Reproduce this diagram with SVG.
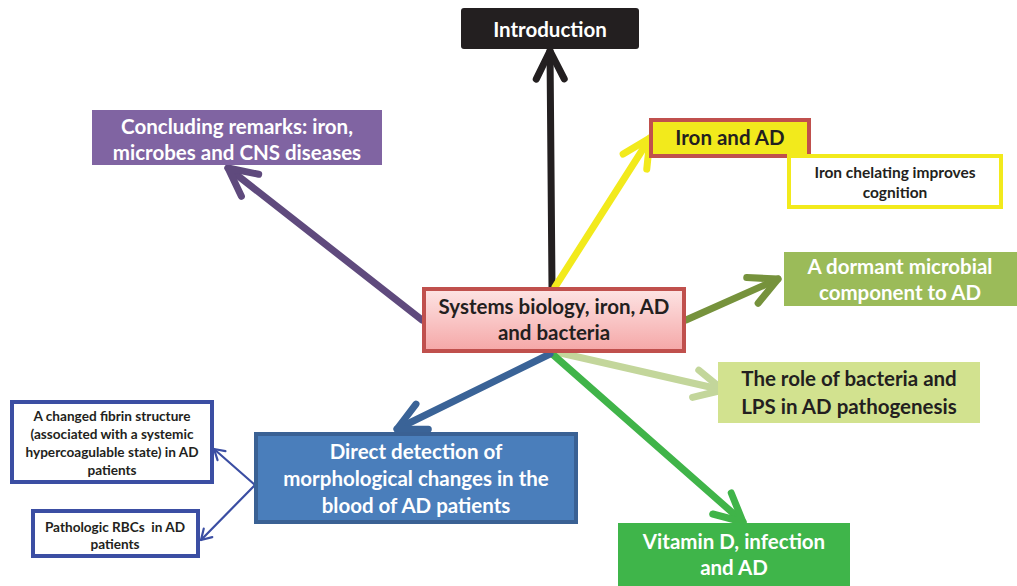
<svg xmlns="http://www.w3.org/2000/svg" width="1017" height="586" viewBox="0 0 1017 586">
<style>
text{font-family:"Lato","Open Sans","Liberation Sans",sans-serif;font-weight:bold;text-anchor:middle}
.big{font-size:20.5px}
.sm{font-size:15.5px}
.xs{font-size:13.6px}
.w{fill:#ffffff}
.d{fill:#231f20}
.conn{fill:none;stroke-linecap:round;stroke-linejoin:round}
.thick{stroke-width:7}
.thin{stroke-width:2.2}
</style>
<defs>
<linearGradient id="pink" x1="0" y1="0" x2="0" y2="1">
<stop offset="0" stop-color="#fde4e4"/>
<stop offset="1" stop-color="#f5a7a7"/>
</linearGradient>
<marker id="mk" markerUnits="userSpaceOnUse" markerWidth="80" markerHeight="80" viewBox="-40 -40 80 80" refX="0" refY="0" orient="auto" overflow="visible"><path d="M-28,-14 L0,0 L-28,14" fill="none" stroke="#231f20" stroke-width="7" stroke-linecap="round" stroke-linejoin="round"/></marker>
<marker id="my" markerUnits="userSpaceOnUse" markerWidth="80" markerHeight="80" viewBox="-40 -40 80 80" refX="0" refY="0" orient="auto" overflow="visible"><path d="M-28,-14 L0,0 L-28,14" fill="none" stroke="#f2ea1c" stroke-width="7" stroke-linecap="round" stroke-linejoin="round"/></marker>
<marker id="mp" markerUnits="userSpaceOnUse" markerWidth="80" markerHeight="80" viewBox="-40 -40 80 80" refX="0" refY="0" orient="auto" overflow="visible"><path d="M-28,-14 L0,0 L-28,14" fill="none" stroke="#5f4a7d" stroke-width="7" stroke-linecap="round" stroke-linejoin="round"/></marker>
<marker id="mo" markerUnits="userSpaceOnUse" markerWidth="80" markerHeight="80" viewBox="-40 -40 80 80" refX="0" refY="0" orient="auto" overflow="visible"><path d="M-28,-14 L0,0 L-28,14" fill="none" stroke="#76923c" stroke-width="7" stroke-linecap="round" stroke-linejoin="round"/></marker>
<marker id="ml" markerUnits="userSpaceOnUse" markerWidth="80" markerHeight="80" viewBox="-40 -40 80 80" refX="0" refY="0" orient="auto" overflow="visible"><path d="M-28,-14 L0,0 L-28,14" fill="none" stroke="#c3d69b" stroke-width="7" stroke-linecap="round" stroke-linejoin="round"/></marker>
<marker id="mg" markerUnits="userSpaceOnUse" markerWidth="80" markerHeight="80" viewBox="-40 -40 80 80" refX="0" refY="0" orient="auto" overflow="visible"><path d="M-28,-14 L0,0 L-28,14" fill="none" stroke="#40b449" stroke-width="7" stroke-linecap="round" stroke-linejoin="round"/></marker>
<marker id="mb" markerUnits="userSpaceOnUse" markerWidth="80" markerHeight="80" viewBox="-40 -40 80 80" refX="0" refY="0" orient="auto" overflow="visible"><path d="M-28,-14 L0,0 L-28,14" fill="none" stroke="#3a6397" stroke-width="7" stroke-linecap="round" stroke-linejoin="round"/></marker>
<marker id="mt" markerUnits="userSpaceOnUse" markerWidth="40" markerHeight="40" viewBox="-20 -20 40 40" refX="0" refY="0" orient="auto" overflow="visible"><path d="M-10,-6 L0,0 L-10,6" fill="none" stroke="#3b4ea3" stroke-width="2.2" stroke-linecap="round" stroke-linejoin="round"/></marker>
</defs>

<g id="connectors">
<line class="conn thick" x1="552" y1="287" x2="550" y2="51" stroke="#231f20" marker-end="url(#mk)"/>
<line class="conn thick" x1="555" y1="287" x2="650" y2="138" stroke="#f2ea1c" marker-end="url(#my)"/>
<line class="conn thick" x1="422" y1="320" x2="228" y2="168" stroke="#5f4a7d" marker-end="url(#mp)"/>
<line class="conn thick" x1="686" y1="320" x2="778" y2="279" stroke="#76923c" marker-end="url(#mo)"/>
<line class="conn thick" x1="556" y1="352" x2="723" y2="390" stroke="#c3d69b" marker-end="url(#ml)"/>
<line class="conn thick" x1="550" y1="352" x2="743" y2="522" stroke="#40b449" marker-end="url(#mg)"/>
<line class="conn thick" x1="550" y1="354" x2="397" y2="429" stroke="#3a6397" marker-end="url(#mb)"/>
<line class="conn thin" x1="255" y1="485" x2="214" y2="449" stroke="#3b4ea3" marker-end="url(#mt)"/>
<line class="conn thin" x1="255" y1="485" x2="201" y2="540" stroke="#3b4ea3" marker-end="url(#mt)"/>
</g>

<g id="introduction">
<rect x="461" y="8" width="178" height="41" rx="3" fill="#231f20"/>
<text class="w" x="550" y="37" font-size="20.5">Introduction</text>
</g>

<g id="concluding">
<rect x="92" y="110" width="290" height="55" fill="#8064a2"/>
<text class="big w" x="237" y="134">Concluding remarks: iron,</text>
<text class="big w" x="237" y="160">microbes and CNS diseases</text>
</g>

<g id="iron-ad">
<rect x="651" y="120" width="158" height="36" fill="#f2ea1c" stroke="#c0504d" stroke-width="4"/>
<text class="d" x="730" y="145" font-size="20.5">Iron and AD</text>
</g>

<g id="iron-chelating">
<rect x="789" y="156" width="212" height="51" fill="#ffffff" stroke="#f2ea1c" stroke-width="4"/>
<text class="sm d" x="895" y="178">Iron chelating improves</text>
<text class="sm d" x="895" y="198">cognition</text>
</g>

<g id="dormant">
<rect x="784" y="252" width="233" height="54" fill="#9bbb59"/>
<text class="big w" x="900" y="274">A dormant microbial</text>
<text class="big w" x="900" y="300">component to AD</text>
</g>

<g id="role-bacteria">
<rect x="718" y="362" width="262" height="61" fill="#d2e28f"/>
<text class="big d" x="849" y="386">The role of bacteria and</text>
<text class="big d" x="849" y="414">LPS in AD pathogenesis</text>
</g>

<g id="vitamin-d">
<rect x="618" y="523" width="232" height="63" fill="#3fb54a"/>
<text class="big w" x="734" y="549">Vitamin D, infection</text>
<text class="big w" x="734" y="575">and AD</text>
</g>

<g id="center">
<rect x="424" y="289" width="260" height="62" fill="url(#pink)" stroke="#c0504d" stroke-width="4"/>
<text class="big d" x="554" y="314">Systems biology, iron, AD</text>
<text class="big d" x="554" y="340">and bacteria</text>
</g>

<g id="direct-detection">
<rect x="256" y="434" width="320" height="88" fill="#4a7ebb" stroke="#3a6194" stroke-width="4"/>
<text class="big w" x="416" y="459">Direct detection of</text>
<text class="big w" x="416" y="486">morphological changes in the</text>
<text class="big w" x="416" y="513">blood of AD patients</text>
</g>

<g id="fibrin">
<rect x="12" y="402" width="200" height="80" fill="#ffffff" stroke="#3b4ea3" stroke-width="4"/>
<text class="xs d" x="112" y="421">A changed fibrin structure</text>
<text class="xs d" x="112" y="439">(associated with a systemic</text>
<text class="xs d" x="112" y="457">hypercoagulable state) in AD</text>
<text class="xs d" x="112" y="475">patients</text>
</g>

<g id="rbc">
<rect x="33" y="511" width="165" height="45" fill="#ffffff" stroke="#3b4ea3" stroke-width="4"/>
<text class="xs d" x="115" y="532" xml:space="preserve">Pathologic RBCs  in AD</text>
<text class="xs d" x="115" y="549">patients</text>
</g>
</svg>
